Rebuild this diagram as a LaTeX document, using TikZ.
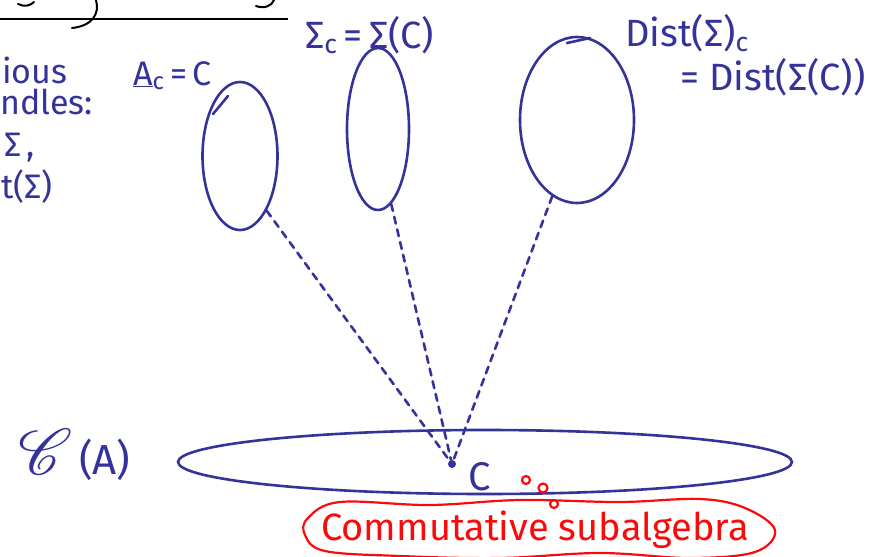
\documentclass[tikz,border=0pt]{standalone}
\usepackage{fontspec}
\setmainfont{Fira Sans}
\usepackage{mathrsfs}
\usepackage{graphicx}
\usetikzlibrary{shapes.geometric,positioning}
\definecolor{pen}{RGB}{51,51,153}
\definecolor{redpen}{RGB}{250,10,10}
\tikzset{
  hand/.style={text=pen, font=\fontsize{34}{40}\selectfont, inner sep=0pt},
  bighand/.style={hand, font=\fontsize{38}{44}\selectfont},
  redhand/.style={text=redpen, font=\fontsize{38}{44}\selectfont, inner sep=0pt},
  bundle/.style={ellipse, draw=pen, line width=2.6pt, inner sep=0pt},
  fibre/.style={pen, line width=2.6pt, dash pattern=on 7pt off 6pt, line cap=round},
  stroke/.style={pen, line width=2.6pt, line cap=round}
}

\begin{document}
\begin{tikzpicture}[x=1pt,y=-1pt]
    \useasboundingbox (0,0) rectangle (892,557);
    % title line, cut at the top
    \draw[black, line width=2pt] (0,19) -- (288,19);
    \draw[black, line width=2pt, line cap=round] (18,4) .. controls (24,7) and (30,6) .. (34,2);
    \draw[black, line width=2pt, line cap=round] (96,0) .. controls (100,14) and (92,26) .. (72,28);
    \draw[black, line width=2pt, line cap=round] (256,6) .. controls (264,9) and (272,6) .. (274,0);
    % left margin text
    \node[hand, anchor=base west] (various) at (2,83) {ious};
    \node[hand, anchor=base west] (bundles) at (0,114) {ndles:};
    \node[hand, anchor=base west] (sig) at (4,156) {Σ\,,};
    \node[hand, anchor=base west] (dist) at (1,198) {t(Σ)};
    % fibres
    \node[bundle, minimum width=75pt, minimum height=148pt] (e1) at (240,156) {};
    \node[bundle, minimum width=62pt, minimum height=162pt] (e2) at (378,129) {};
    \node[bundle, minimum width=114pt, minimum height=166pt] (e3) at (577,120) {};
    \node[hand, anchor=base west] (la) at (133,85) {\underline{A}\textsubscript{c}\,=\,C};
    \node[bighand, anchor=base west] (lb) at (305,48) {Σ\textsubscript{c}\,=\,Σ(C)};
    \node[bighand, anchor=base west] (lc) at (625,46) {Dist(Σ)\textsubscript{c}};
    \node[bighand, anchor=base west] (ld) at (680,90) {= Dist(Σ(C))};
    \draw[stroke] (213,114) -- (228,96);
    \draw[stroke] (567,43) -- (590,38);
    % base space
    \node[bundle, minimum width=614pt, minimum height=64pt] (base) at (485,462) {};
    \node[hand, anchor=base west, font=\fontsize{42}{48}\selectfont] (space) at (18,474) {\scalebox{2.6}{$\mathscr{C}$}\,(A)};
    \node[circle, fill=pen, inner sep=0pt, minimum size=8pt] (pt) at (452,464) {};
    \node[hand, anchor=base west, font=\fontsize{40}{46}\selectfont] (lpt) at (468,490) {C};
    \draw[fibre] (e1.-64) -- (pt);
    \draw[fibre] (e2.-80) -- (pt);
    \draw[fibre] (e3.-108) -- (pt);
    % commutative subalgebra
    \draw[redpen, line width=2.2pt] (526,480) circle (4pt) (543,488) circle (4.5pt) (554,504) circle (4pt);
    \node[redhand] (sub) at (535,530) {Commutative subalgebra};
    \draw[redpen, line width=2.2pt] plot[smooth cycle, tension=0.6] coordinates {
      (308,518) (340,502) (430,505) (520,500) (620,502) (700,499) (745,508) (775,530)
      (755,552) (690,558) (600,553) (500,558) (400,556) (325,551) (305,535)};
\end{tikzpicture}
\end{document}
